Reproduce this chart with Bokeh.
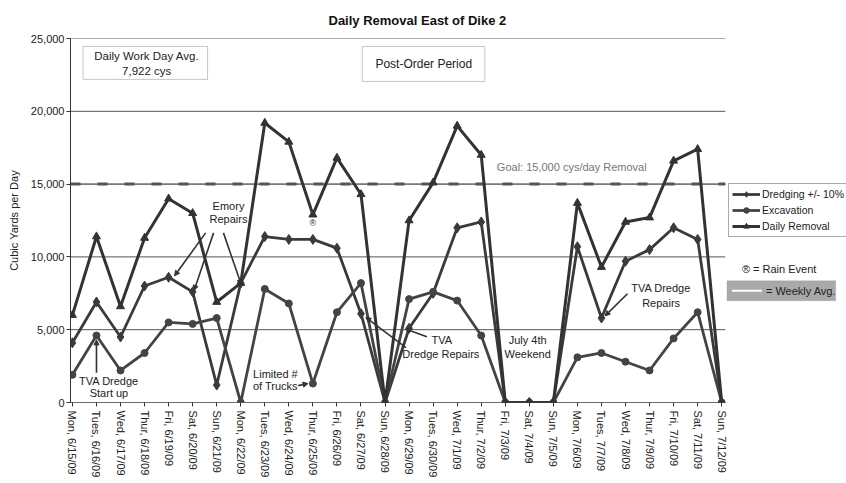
from bokeh.plotting import figure
from bokeh.models import (Range1d, FixedTicker, Label, BoxAnnotation, Arrow,
                          NormalHead, Legend, LegendItem, ColumnDataSource)
from bokeh.embed import file_html
from bokeh.resources import INLINE

# ---------------- data ----------------
dates = ["Mon, 6/15/09", "Tues, 6/16/09", "Wed, 6/17/09", "Thur, 6/18/09",
         "Fri, 6/19/09", "Sat, 6/20/09", "Sun, 6/21/09", "Mon, 6/22/09",
         "Tues, 6/23/09", "Wed, 6/24/09", "Thur, 6/25/09", "Fri, 6/26/09",
         "Sat, 6/27/09", "Sun, 6/28/09", "Mon, 6/29/09", "Tues, 6/30/09",
         "Wed, 7/1/09", "Thur, 7/2/09", "Fri, 7/3/09", "Sat, 7/4/09",
         "Sun, 7/5/09", "Mon, 7/6/09", "Tues, 7/7/09", "Wed, 7/8/09",
         "Thur, 7/9/09", "Fri, 7/10/09", "Sat, 7/11/09", "Sun, 7/12/09"]

dredging = [4100, 6900, 4500, 8000, 8600, 7600, 1200, 8200,
            11400, 11200, 11200, 10600, 6100, 0, 5100, 7500,
            12000, 12400, 0, 0, 0, 10700, 5800, 9700,
            10500, 12000, 11200, 0]

excavation = [1900, 4600, 2200, 3400, 5500, 5400, 5800, 0,
              7800, 6800, 1300, 6200, 8200, 0, 7100, 7600,
              7000, 4600, 0, 0, 0, 3100, 3400, 2800,
              2200, 4400, 6200, 0]

daily_removal = [6000, 11400, 6600, 11300, 14000, 13000, 6900, 8200,
                 19200, 17900, 12900, 16800, 14300, 0, 12500, 15100,
                 19000, 17000, 0, 0, 0, 13700, 9300, 12400,
                 12700, 16600, 17400, 0]

goal = 15000
y_ticks = [0, 5000, 10000, 15000, 20000, 25000]
rain_event_days = [10]

FONT = "Liberation Sans"
DARK = "#3a3a3a"

n = len(dates)
xs = list(range(n))
X_LO, X_HI = -0.08, n - 1 + 0.15          # extent of the plotting area
src = ColumnDataSource(dict(x=xs, dredging=dredging, excavation=excavation,
                            daily=daily_removal))

p = figure(width=846, height=482, output_backend="svg", toolbar_location=None,
           x_range=Range1d(X_LO, 32.19), y_range=Range1d(0, 25000),
           min_border_left=70, min_border_right=0, min_border_top=37,
           min_border_bottom=80)
p.outline_line_color = None
p.background_fill_color = "white"

# title
p.title.text = "Daily Removal East of Dike 2"
p.title.align = "left"
p.title.offset = 258
p.title.text_font = FONT
p.title.text_font_size = "13px"
p.title.text_font_style = "bold"
p.title.text_color = "#111111"
p.title.standoff = 21

# grid (drawn only across the chart area)
p.xgrid.grid_line_color = None
p.ygrid.grid_line_color = None
p.segment(x0=[X_LO] * len(y_ticks), x1=[X_HI] * len(y_ticks),
          y0=y_ticks, y1=y_ticks, line_color="#555555", line_width=1)

# axes
p.yaxis.ticker = FixedTicker(ticks=y_ticks)
p.yaxis.major_label_overrides = {t: f"{t:,}" for t in y_ticks}
p.yaxis.axis_label = "Cubic Yards per Day"
p.yaxis.axis_label_text_font = FONT
p.yaxis.axis_label_text_font_style = "normal"
p.yaxis.axis_label_text_font_size = "11px"
p.yaxis.axis_label_text_color = "#222222"
p.yaxis.axis_label_standoff = 8
p.yaxis.major_label_text_font = FONT
p.yaxis.major_label_text_font_size = "11px"
p.yaxis.major_label_text_color = "#222222"
p.yaxis.major_label_standoff = 2
p.yaxis.minor_tick_line_color = None
p.yaxis.major_tick_in = 0
p.yaxis.major_tick_out = 4
p.yaxis.axis_line_color = "#333333"
p.yaxis.major_tick_line_color = "#333333"

p.xaxis.ticker = FixedTicker(ticks=xs)
p.xaxis.major_label_overrides = {i: d for i, d in zip(xs, dates)}
p.xaxis.major_label_orientation = "vertical"
p.xaxis.major_label_text_font = FONT
p.xaxis.major_label_text_font_size = "11px"
p.xaxis.major_label_text_color = "#222222"
p.xaxis.major_label_standoff = 4
p.xaxis.minor_tick_line_color = None
p.xaxis.major_tick_in = 0
p.xaxis.major_tick_out = 4
p.xaxis.axis_line_color = None
p.xaxis.major_tick_line_color = "#333333"
p.segment(x0=[X_LO], x1=[X_HI], y0=[0], y1=[0], line_color="#333333",
          line_width=1.2)

# goal line
p.segment(x0=[X_LO], x1=[X_HI], y0=[goal], y1=[goal], line_color="#666666",
          line_width=1)
p.segment(x0=[X_LO], x1=[X_HI], y0=[goal], y1=[goal], line_color="#555555",
          line_width=3, line_dash="10 17")

# series
l1 = p.line("x", "dredging", source=src, line_color=DARK, line_width=2.8)
m1 = p.scatter("x", "dredging", source=src, marker="diamond", size=10,
               fill_color=DARK, line_color=DARK)
l2 = p.line("x", "excavation", source=src, line_color="#444444", line_width=2.8)
m2 = p.scatter("x", "excavation", source=src, marker="circle", size=7,
               fill_color="#444444", line_color="#444444")
l3 = p.line("x", "daily", source=src, line_color="#333333", line_width=3)
m3 = p.scatter("x", "daily", source=src, marker="triangle", size=8,
               fill_color="#333333", line_color="#333333")

legend = Legend(items=[LegendItem(label="Dredging +/- 10%", renderers=[l1, m1]),
                       LegendItem(label="Excavation", renderers=[l2, m2]),
                       LegendItem(label="Daily Removal", renderers=[l3, m3])],
                location=(658, 165), border_line_color="#555555",
                border_line_width=1, background_fill_color="white",
                background_fill_alpha=1, label_text_font=FONT,
                label_text_font_size="10.5px", label_text_color="#222222",
                glyph_width=28, glyph_height=14, label_height=14,
                label_standoff=2, spacing=2, padding=3, margin=0)
p.add_layout(legend, "center")


def txt(x, y, s, size="11px", align="center", color="#222222", style="normal"):
    p.add_layout(Label(x=x, y=y, text=s, text_font=FONT, text_font_size=size,
                       text_align=align, text_baseline="middle",
                       text_color=color, text_font_style=style))


def arrow(x0, y0, x1, y1):
    p.add_layout(Arrow(x_start=x0, y_start=y0, x_end=x1, y_end=y1,
                       line_color="#333333", line_width=1.6,
                       end=NormalHead(size=5, fill_color="#333333",
                                      line_color="#333333")))


# boxes
p.add_layout(BoxAnnotation(left=0.44, right=5.62, bottom=22190, top=24450,
                           fill_color="white", fill_alpha=1,
                           line_color="#444444", line_width=1))
txt(3.09, 23770, "Daily Work Day Avg.", size="11.5px")
txt(3.09, 22740, "7,922 cys", size="11.5px")
p.add_layout(BoxAnnotation(left=12.05, right=17.15, bottom=22050, top=24450,
                           fill_color="white", fill_alpha=1,
                           line_color="#444444", line_width=1))
txt(14.61, 23220, "Post-Order Period", size="12px")

txt(17.65, 16170, "Goal: 15,000 cys/day Removal", align="left", color="#777777")

# annotations
txt(6.49, 13490, "Emory")
txt(6.49, 12600, "Repairs")
arrow(5.54, 11650, 4.25, 8700)
arrow(5.87, 11650, 5.06, 7700)
arrow(6.28, 11650, 7.02, 8100)

txt(1.52, 1510, "TVA Dredge")
txt(1.52, 685, "Start up")
arrow(1.0, 2050, 1.0, 4300)

txt(8.44, 1990, "Limited #")
txt(8.44, 1100, "of Trucks")
arrow(9.39, 1160, 9.8, 1300)

txt(15.36, 4320, "TVA")
txt(15.32, 3360, "Dredge Repairs")
arrow(14.74, 4520, 13.85, 5050)
arrow(13.87, 3770, 12.2, 5850)

txt(18.93, 4320, "July 4th")
txt(18.93, 3360, "Weekend")

txt(24.48, 7880, "TVA Dredge")
txt(24.48, 6850, "Repairs")
arrow(23.08, 7470, 22.15, 5950)

for d in rain_event_days:
    txt(d, daily_removal[d] - 600, "®", size="9px")

# side notes
txt(27.84, 9180, "® = Rain Event", align="left")
p.add_layout(BoxAnnotation(left=27.22, right=31.74, bottom=6990, top=8360,
                           fill_color="#a9a9a9", fill_alpha=1,
                           line_color="#999999", line_width=1))
p.add_layout(Arrow(x_start=27.43, y_start=7670, x_end=28.67, y_end=7670,
                   end=None, line_color="white", line_width=2))
txt(28.84, 7670, "= Weekly Avg.", align="left")

open("out.html", "w").write(file_html(p, INLINE))
